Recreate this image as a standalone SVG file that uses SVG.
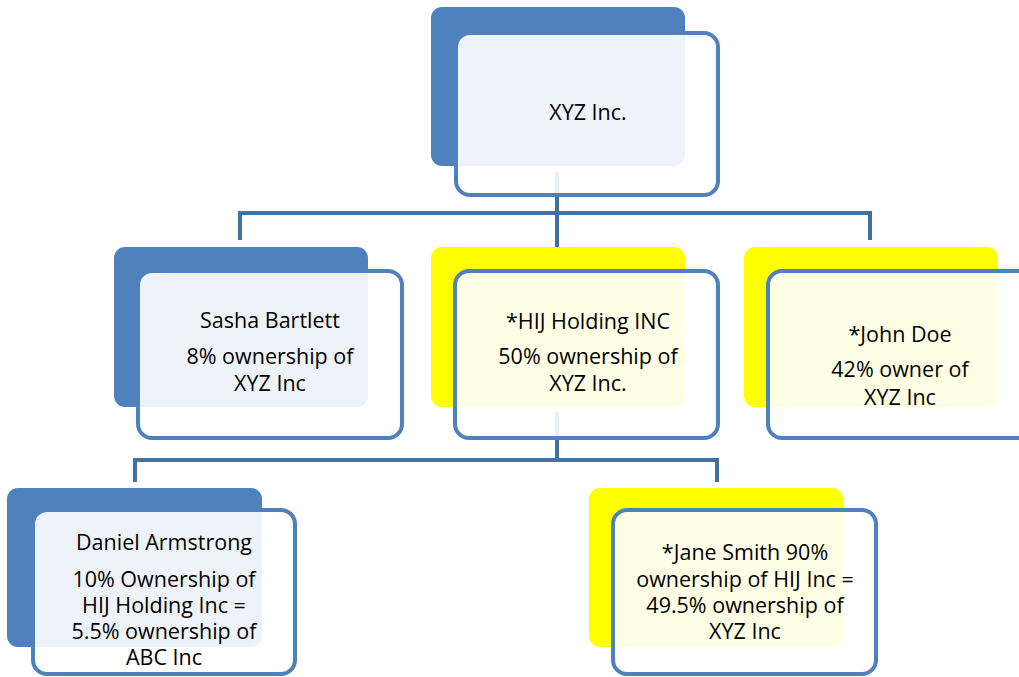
<svg xmlns="http://www.w3.org/2000/svg" width="1019" height="677" viewBox="0 0 1019 677">
<style>
.back-b{fill:#4f81bd}
.back-y{fill:#ffff00}
.front{fill:#ffffff;fill-opacity:0.9;stroke:#4f81bd;stroke-width:4}
.conn{fill:none;stroke:#41719c;stroke-width:4}
text{font-family:"Open Sans","Liberation Sans",sans-serif;font-size:21.5px;fill:#000;text-anchor:middle}
</style>
<rect width="1019" height="677" fill="#fff"/>
<g id="connectors">
<path class="conn" d="M557,172 V213 M240,240 V213 H870 V240 M557,213 V247"/>
<path class="conn" d="M557,412 V460 M135,482 V460 H717 V482"/>
</g>
<g id="node-xyz">
<rect class="back-b" x="431" y="7" width="254" height="159" rx="11"/>
<rect class="front" x="456" y="33" width="262" height="162" rx="14"/>
<text x="588" y="120">XYZ Inc.</text>
</g>
<g id="node-sasha">
<rect class="back-b" x="114" y="247" width="254" height="160" rx="11"/>
<rect class="front" x="138" y="271" width="264" height="167" rx="14"/>
<text x="270" y="328">Sasha Bartlett</text>
<text x="270" y="364">8% ownership of</text>
<text x="270" y="391">XYZ Inc</text>
</g>
<g id="node-hij">
<rect class="back-y" x="431" y="247" width="254" height="160" rx="11"/>
<rect class="front" x="455" y="271" width="263" height="167" rx="14"/>
<text x="588" y="329">*HIJ Holding INC</text>
<text x="588" y="364">50% ownership of</text>
<text x="588" y="391">XYZ Inc.</text>
</g>
<g id="node-john">
<rect class="back-y" x="744" y="247" width="254" height="160" rx="11"/>
<rect class="front" x="768" y="271" width="264" height="167" rx="14"/>
<text x="900" y="342">*John Doe</text>
<text x="900" y="377">42% owner of</text>
<text x="900" y="405">XYZ Inc</text>
</g>
<g id="node-daniel">
<rect class="back-b" x="7" y="488" width="255" height="159" rx="11"/>
<rect class="front" x="33" y="510" width="262" height="164" rx="14"/>
<text x="164" y="550">Daniel Armstrong</text>
<text x="164" y="587">10% Ownership of</text>
<text x="164" y="613">HIJ Holding Inc =</text>
<text x="164" y="639">5.5% ownership of</text>
<text x="164" y="665">ABC Inc</text>
</g>
<g id="node-jane">
<rect class="back-y" x="589" y="488" width="254" height="159" rx="11"/>
<rect class="front" x="613" y="510" width="263" height="164" rx="14"/>
<text x="745" y="560">*Jane Smith 90%</text>
<text x="745" y="587">ownership of HIJ Inc =</text>
<text x="745" y="613">49.5% ownership of</text>
<text x="745" y="639">XYZ Inc</text>
</g>
</svg>
